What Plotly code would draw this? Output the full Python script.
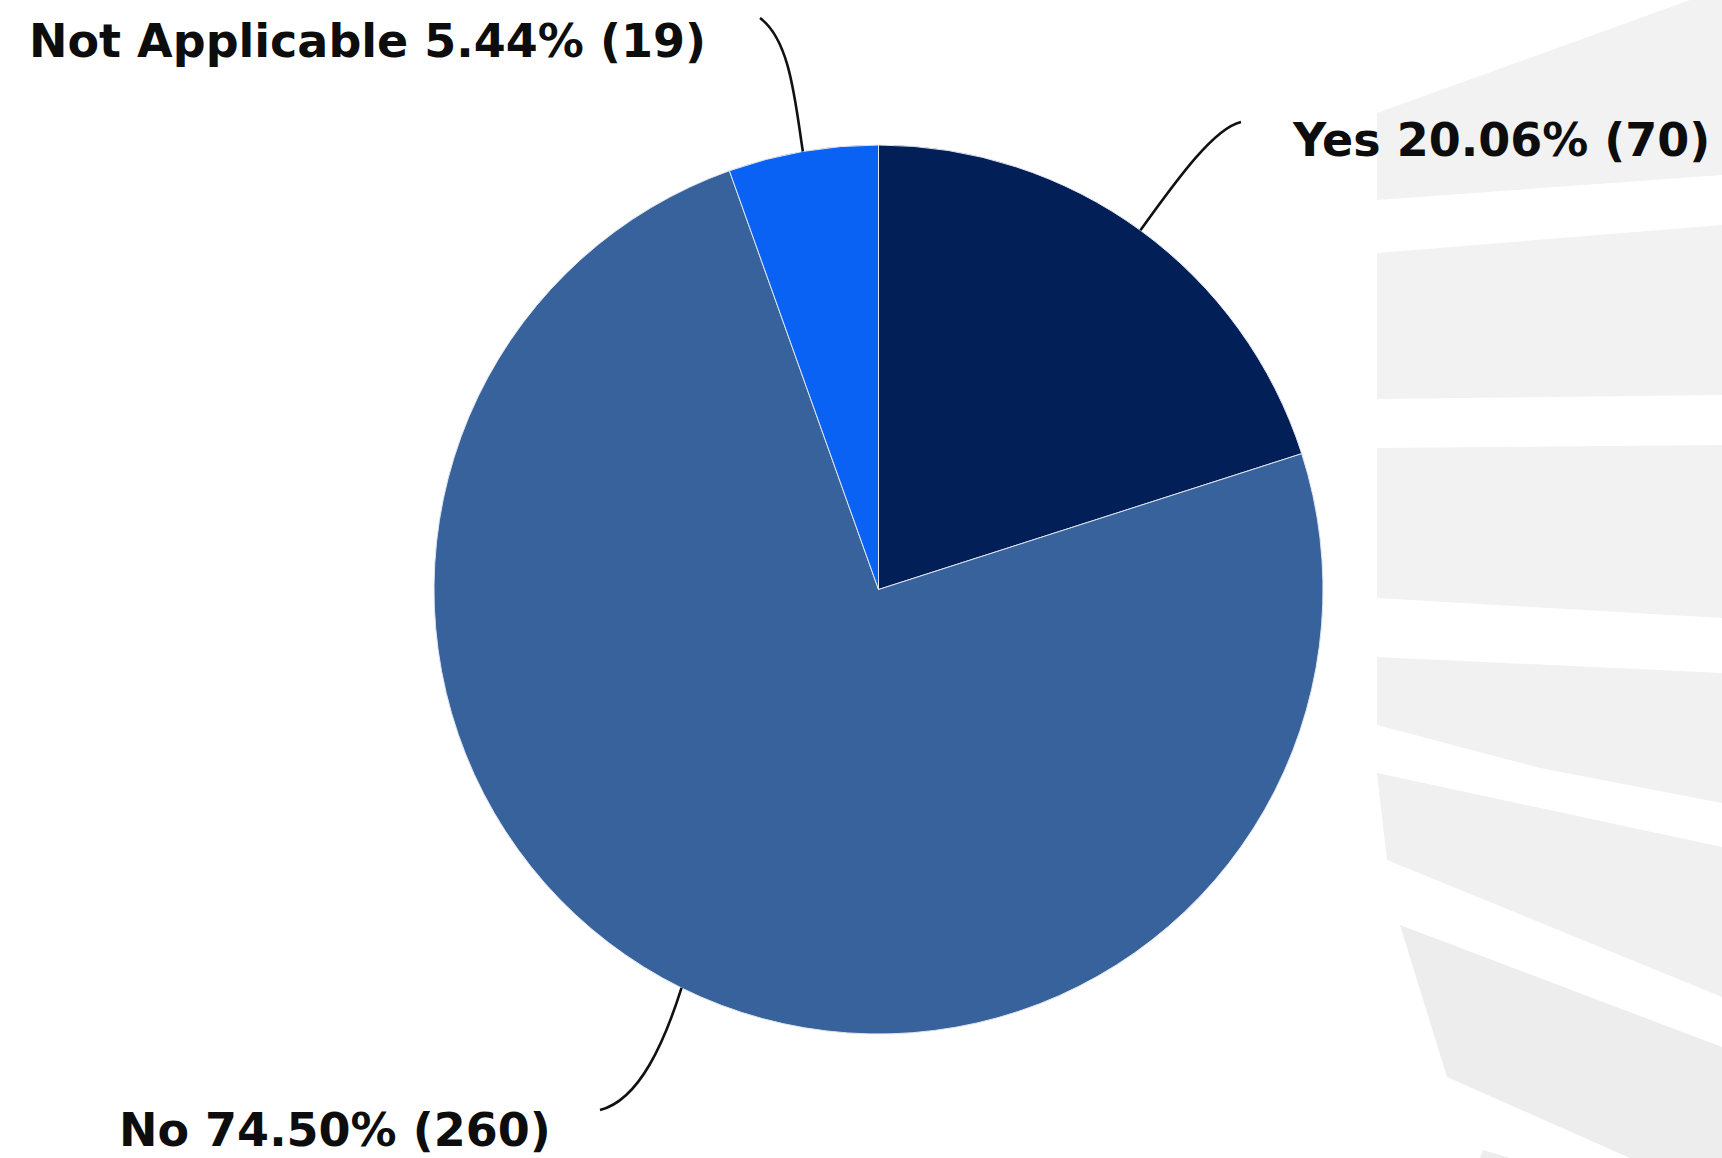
import math
import plotly.graph_objects as go

# Survey responses
labels = ["Yes", "No", "Not Applicable"]
counts = [70, 260, 19]
percents = [20.06, 74.50, 5.44]
colors = ["#021f58", "#37629b", "#0a62f4"]

W, H = 1722, 1158

# Pie geometry in pixels
CX, CY, R = 878.5, 589.5, 444.5


def px(x):
    return x / W


def py(y):
    return 1 - y / H


# label anchor (left edge, vertical middle) and curve bend points for each slice
label_pos = {
    "Yes": (1290, 140),
    "No": (117, 1130),
    "Not Applicable": (27, 41),
}
leader_tail = {
    "Yes": ((1180, 175), (1215, 128), (1241, 122)),
    "No": ((665, 1040), (640, 1100), (600, 1110)),
    "Not Applicable": ((795, 100), (790, 40), (760, 18)),
}

fig = go.Figure()
fig.add_trace(go.Pie(
    labels=labels,
    values=counts,
    sort=False,
    direction="clockwise",
    rotation=0,
    textinfo="none",
    hoverinfo="label+value+percent",
    marker=dict(colors=colors, line=dict(color="#dfe6f0", width=1)),
    domain=dict(x=[px(CX - R), px(CX + R)], y=[py(CY + R), py(CY - R)]),
    showlegend=False,
))

shapes = []

# faint background emblem on the right
bands = [
    ([(1377, 113), (1690, 0), (1722, 0), (1722, 175), (1377, 200)], "#f2f2f2"),
    ([(1377, 253), (1722, 225), (1722, 395), (1377, 399)], "#f2f2f2"),
    ([(1377, 448), (1722, 445), (1722, 618), (1377, 598)], "#f2f2f2"),
    ([(1377, 657), (1722, 673), (1722, 803), (1540, 768), (1377, 725)], "#f1f1f1"),
    ([(1377, 773), (1722, 847), (1722, 997), (1387, 860)], "#f0f0f0"),
    ([(1400, 925), (1722, 1047), (1722, 1158), (1630, 1158), (1447, 1077)], "#ededed"),
    ([(1483, 1150), (1510, 1158), (1480, 1158)], "#ededed"),
]
for pts, col in bands:
    d = "M " + " L ".join(f"{px(x):.5f},{py(y):.5f}" for x, y in pts) + " Z"
    shapes.append(dict(type="path", xref="paper", yref="paper", path=d,
                       fillcolor=col, line=dict(width=0), layer="below"))

# leader curves from the middle of each slice's arc out to its label
total = sum(counts)
cum = 0
annotations = []
for lab, cnt, pct in zip(labels, counts, percents):
    mid = (cum + cnt / 2) / total * 2 * math.pi
    cum += cnt
    sx = CX + R * math.sin(mid)
    sy = CY - R * math.cos(mid)
    (c1x, c1y), (c2x, c2y), (ex, ey) = leader_tail[lab]
    d = (f"M {px(sx):.5f},{py(sy):.5f} C {px(c1x):.5f},{py(c1y):.5f} "
         f"{px(c2x):.5f},{py(c2y):.5f} {px(ex):.5f},{py(ey):.5f}")
    shapes.append(dict(type="path", xref="paper", yref="paper", path=d,
                       line=dict(color="#111111", width=2.6), layer="above"))
    lx, ly = label_pos[lab]
    annotations.append(dict(
        x=px(lx), y=py(ly), xref="paper", yref="paper",
        xanchor="left", yanchor="middle", showarrow=False,
        text=f"{lab} {pct:.2f}% ({cnt})",
        font=dict(family="DejaVu Sans", size=46, color="#0d0d0d", weight="bold"),
    ))

fig.update_layout(
    width=W, height=H,
    margin=dict(l=0, r=0, t=0, b=0),
    paper_bgcolor="#ffffff",
    plot_bgcolor="#ffffff",
    shapes=shapes,
    annotations=annotations,
)

fig.write_html("out.html")
